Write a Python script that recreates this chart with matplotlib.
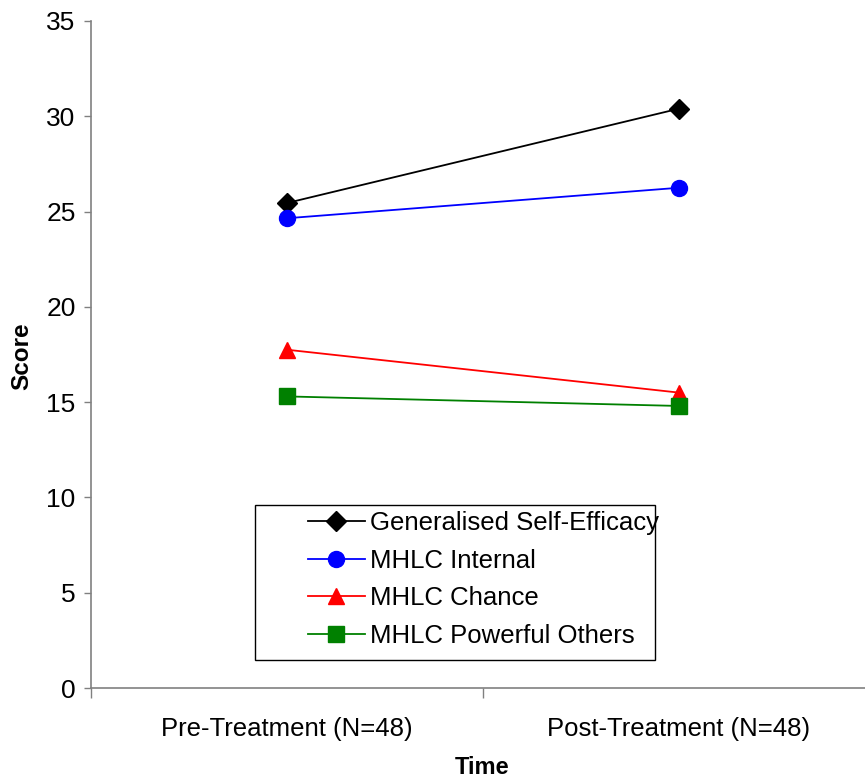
import matplotlib
matplotlib.use("Agg")
import matplotlib.pyplot as plt
from matplotlib.patches import Rectangle

plt.rcParams['font.family'] = ['Liberation Sans', 'DejaVu Sans']

# data
time_points = ['Pre-Treatment (N=48)', 'Post-Treatment (N=48)']
self_efficacy = [25.45, 30.4]
mhlc_internal = [24.65, 26.25]
mhlc_chance = [17.75, 15.5]
mhlc_powerful = [15.3, 14.8]

series = [
    ('Generalised Self-Efficacy', self_efficacy, 'black', 'D', 10),
    ('MHLC Internal', mhlc_internal, '#0000ff', 'o', 11.5),
    ('MHLC Chance', mhlc_chance, '#ff0000', '^', 12),
    ('MHLC Powerful Others', mhlc_powerful, '#008000', 's', 11),
]

W, H = 865, 781
fig = plt.figure(figsize=(W / 100, H / 100), dpi=100)
ax = fig.add_axes([91 / W, 1 - 688 / H, (875 - 91) / W, (688 - 21) / H])

x = list(range(len(time_points)))
for label, vals, color, marker, ms in series:
    ax.plot(x, vals, color=color, marker=marker, markersize=ms, lw=1.3,
            label=label, clip_on=False)

ax.set_xlim(-0.5, 1.5)
ax.set_ylim(0, 35)
ax.set_yticks(range(0, 36, 5))
ax.tick_params(axis='y', labelsize=19, length=5, width=1, color='#808080',
               direction='out', pad=6)

ax.set_xticks([-0.5, 0.5, 1.5])
ax.set_xticklabels([])
ax.set_xticks(x, minor=True)
ax.set_xticklabels(time_points, minor=True)
ax.tick_params(axis='x', which='major', length=7, width=1, color='#808080')
ax.tick_params(axis='x', which='minor', length=0, labelsize=18.5, pad=21)

for s in ['top', 'right']:
    ax.spines[s].set_visible(False)
for s in ['left', 'bottom']:
    ax.spines[s].set_color('#808080')
    ax.spines[s].set_linewidth(1.2)

fig.text(22 / W, 1 - 356 / H, 'Score', fontsize=17.5, fontweight='bold',
         rotation=90, ha='center', va='center')
fig.text(482 / W, 1 - 768 / H, 'Time', fontsize=17, fontweight='bold',
         ha='center', va='center')

# legend box
box = Rectangle((255 / W, 1 - 660 / H), 400 / W, 155 / H,
                transform=fig.transFigure, facecolor='white',
                edgecolor='black', lw=1.0, zorder=5, clip_on=False)
ax.add_patch(box)
leg = ax.legend(loc='upper left', bbox_to_anchor=(308 / W, 1 - 511 / H),
                bbox_transform=fig.transFigure, fontsize=18.5,
                frameon=False, borderpad=0, labelspacing=0.53,
                handlelength=2.2, handletextpad=0.2, borderaxespad=0)
leg.set_zorder(6)

fig.savefig('out.png', dpi=100)
